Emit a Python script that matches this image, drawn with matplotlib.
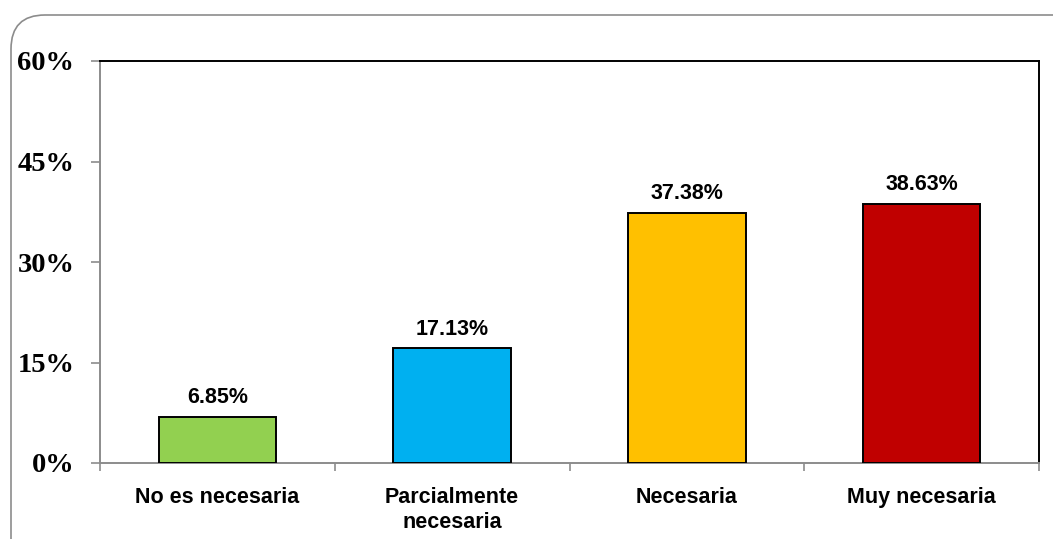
import matplotlib.pyplot as plt
from matplotlib.patches import FancyBboxPatch

categories = ['No es necesaria', 'Parcialmente\nnecesaria', 'Necesaria', 'Muy necesaria']
values = [6.85, 17.13, 37.38, 38.63]
labels = ['6.85%', '17.13%', '37.38%', '38.63%']
colors = ['#92D050', '#00B0F0', '#FFC000', '#C00000']
yticks = [0, 15, 30, 45, 60]

dpi = 100
fig = plt.figure(dpi=dpi, figsize=(1053 / dpi, 539 / dpi))
ax = fig.add_axes([100 / 1053, 1 - 463 / 539, 939 / 1053, 402 / 539])

# rounded outer frame
frame = FancyBboxPatch((11, -60), 1120, 524 + 60, boxstyle='round,pad=0,rounding_size=34',
                       transform=None, facecolor='none', edgecolor='#8c8c8c', lw=1.2)
fig.patches.append(frame)

x = range(len(categories))
ax.bar(x, values, width=0.5, color=colors, edgecolor='black', linewidth=1.4, zorder=3)

for i, v in enumerate(values):
    ax.text(i, v + 1.3, labels[i], ha='center', va='bottom', fontsize=15.5,
            fontweight='bold', family='Liberation Sans')

ax.set_xlim(-0.5, 3.5)
ax.set_ylim(0, 60)
ax.set_yticks(yticks)
ax.set_yticklabels([f'{t}%' for t in yticks], fontsize=20.5, fontweight='bold',
                   family='Liberation Serif')
ax.set_xticks(list(x))
ax.set_xticklabels(categories, fontsize=15.5, fontweight='bold', family='Liberation Sans',
                   linespacing=1.3)
ax.tick_params(axis='x', which='major', length=0, pad=17)
ax.set_xticks([-0.5, 0.5, 1.5, 2.5, 3.5], minor=True)
ax.tick_params(axis='x', which='minor', length=6, color='#8c8c8c', width=1.2)
ax.tick_params(axis='y', length=6.5, color='#8c8c8c', width=1.2, pad=12)

ax.spines['left'].set_color('#8c8c8c')
ax.spines['bottom'].set_color('#8c8c8c')
ax.spines['top'].set_color('black')
ax.spines['right'].set_color('black')
for s in ax.spines.values():
    s.set_linewidth(1.4)

fig.savefig('out.png', dpi=dpi)
